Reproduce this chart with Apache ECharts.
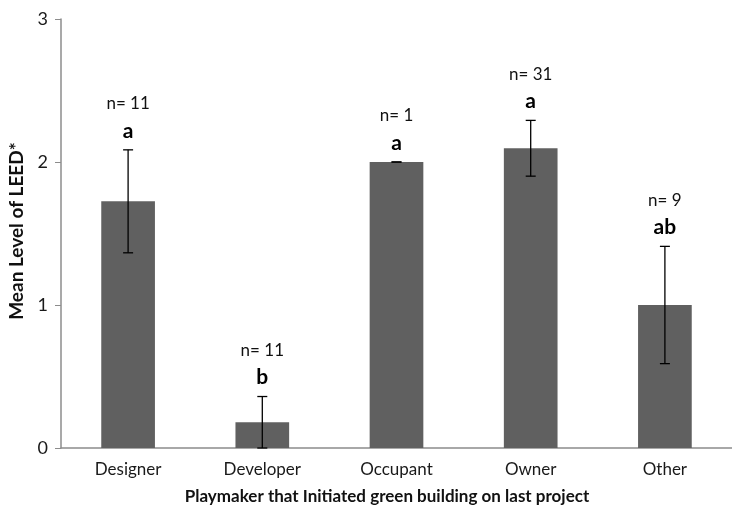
<!DOCTYPE html>
<html><head><meta charset="utf-8">
<script src="https://cdn.jsdelivr.net/npm/echarts@6/dist/echarts.min.js"></script>
<style>html,body{margin:0;padding:0;background:#fff}#c{width:732px;height:514px}</style>
</head><body><div id="c"></div>
<script>
const categories = ['Designer', 'Developer', 'Occupant', 'Owner', 'Other'];
const means = [1.725, 0.18, 2.0, 2.096, 1.0];
const errors = [0.36, 0.18, 0.0, 0.195, 0.41];
const nLabels = ['n= 11', 'n= 11', 'n= 1', 'n= 31', 'n= 9'];
const groupLetters = ['a', 'b', 'a', 'a', 'ab'];
const yTicks = [0, 1, 2, 3];

const FONT = 'Lato, "Open Sans", sans-serif';
const errData = categories.map((c, i) => [i, means[i] - errors[i], means[i] + errors[i]]);

const chart = echarts.init(document.getElementById('c'));
chart.setOption({
  animation: false,
  grid: { left: 61, right: -11, top: 19, bottom: 66, containLabel: false },
  xAxis: {
    type: 'category', data: categories,
    axisLine: { lineStyle: { color: '#8c8c8c', width: 1.5 } },
    axisTick: { show: false },
    axisLabel: { color: '#1a1a1a', fontFamily: FONT, fontSize: 17, margin: 13 },
  },
  yAxis: {
    type: 'value', min: 0, max: 3, interval: 1,
    splitLine: { show: false },
    axisLine: { show: true, lineStyle: { color: '#8c8c8c', width: 1.5 } },
    axisTick: { show: true, length: 6, lineStyle: { color: '#8c8c8c' } },
    axisLabel: { color: '#1a1a1a', fontFamily: FONT, fontSize: 18, margin: 13,
      formatter: v => yTicks.includes(v) ? String(v) : '' },
  },
  graphic: [
    { type: 'text', x: 387, y: 488, style: { text: 'Playmaker that Initiated green building on last project',
      font: 'bold 17px ' + FONT, fill: '#111', textAlign: 'center' } },
    { type: 'text', x: 7, y: 231, rotation: Math.PI / 2, style: { text: 'Mean Level of LEED*',
      font: 'bold 19px ' + FONT, fill: '#111', textAlign: 'center', textVerticalAlign: 'top' } }
  ],
  series: [
    {
      type: 'bar', data: means, barWidth: '40%',
      itemStyle: { color: '#606060' }
    },
    {
      type: 'custom', data: errData, z: 10,
      renderItem: function (params, api) {
        const i = api.value(0);
        const lo = api.coord([i, api.value(1)]);
        const hi = api.coord([i, api.value(2)]);
        const x = lo[0], cw = 5;
        return {
          type: 'group',
          children: [
            { type: 'line', shape: { x1: x, y1: hi[1], x2: x, y2: lo[1] }, style: { stroke: '#000', lineWidth: 1.3 } },
            { type: 'line', shape: { x1: x - cw, y1: hi[1], x2: x + cw, y2: hi[1] }, style: { stroke: '#000', lineWidth: 1.3 } },
            { type: 'line', shape: { x1: x - cw, y1: lo[1], x2: x + cw, y2: lo[1] }, style: { stroke: '#000', lineWidth: 1.3 } },
            { type: 'text', x: x, y: hi[1] - 19, style: { text: groupLetters[i], font: 'bold 21px ' + FONT, fill: '#000', textAlign: 'center', textVerticalAlign: 'middle' } },
            { type: 'text', x: x, y: hi[1] - 46, style: { text: nLabels[i], font: '17px ' + FONT, fill: '#111', textAlign: 'center', textVerticalAlign: 'middle' } }
          ]
        };
      }
    }
  ]
});
</script></body></html>
